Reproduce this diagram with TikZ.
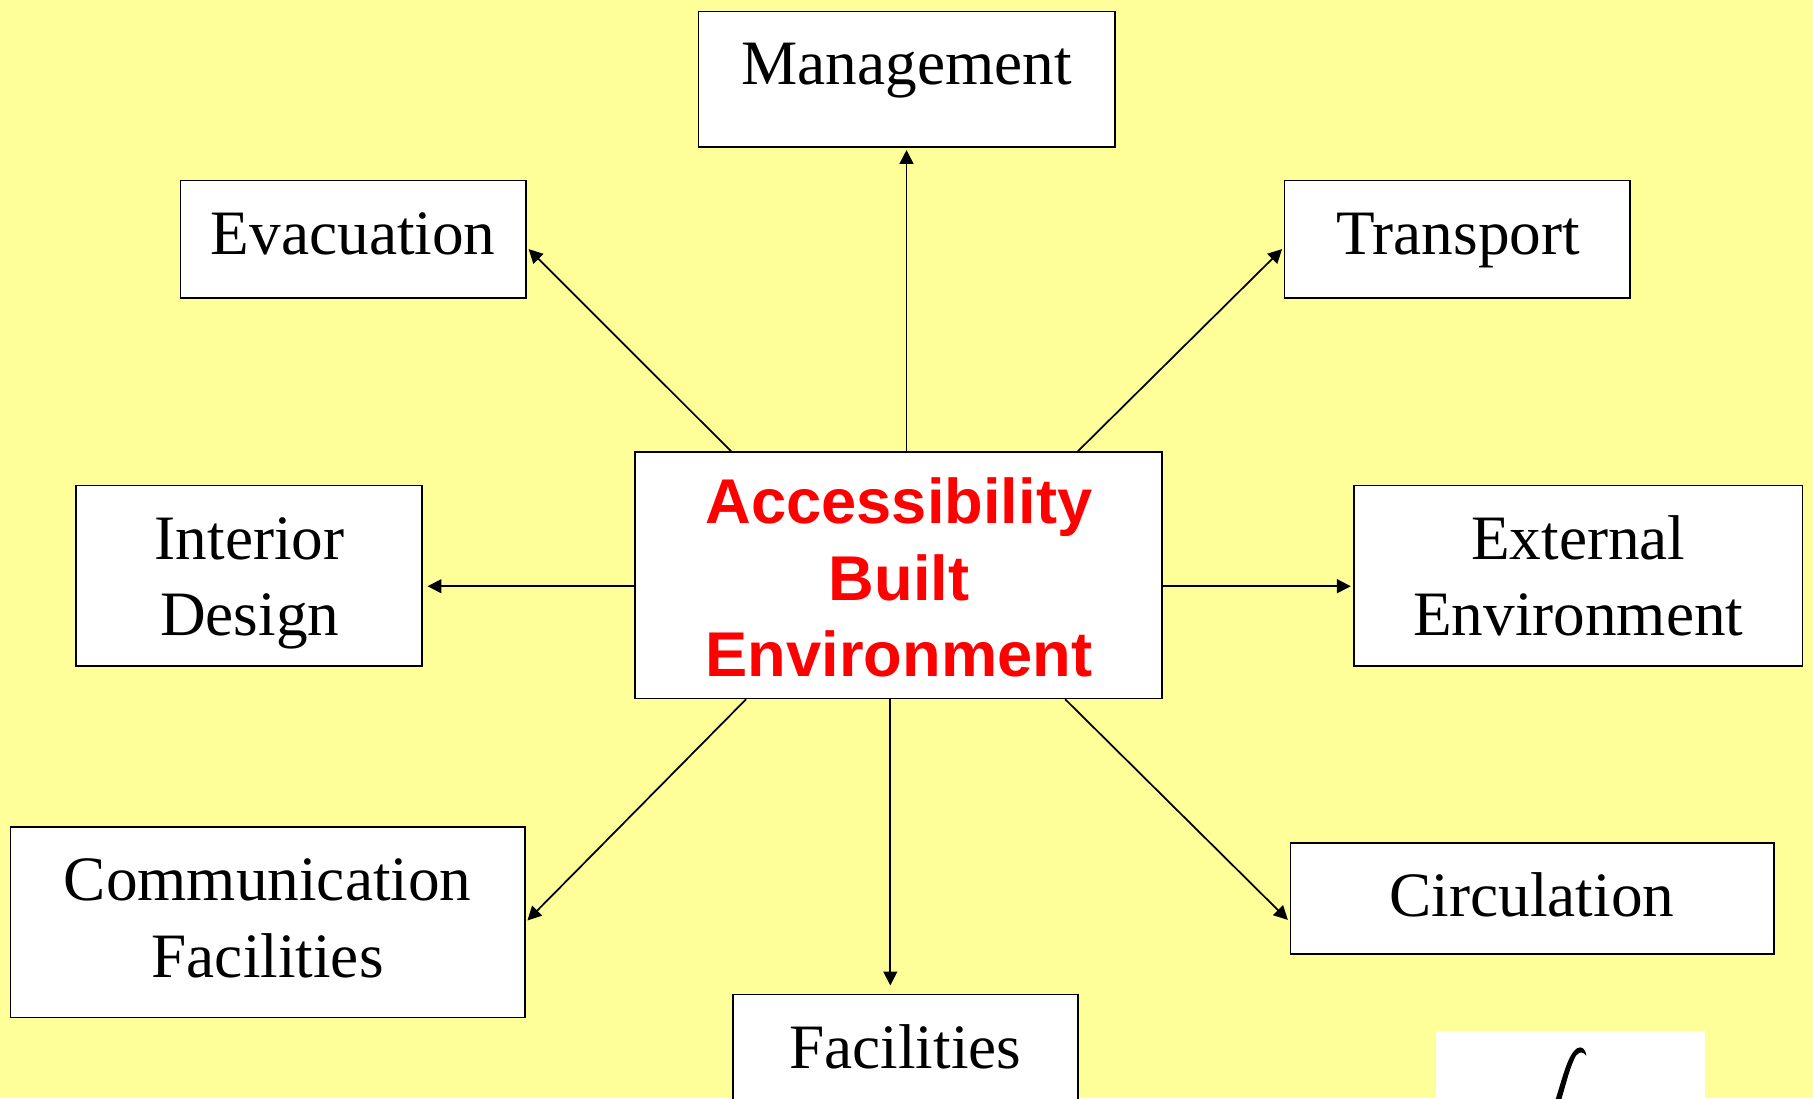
\documentclass[tikz,border=0pt]{standalone}
\usepackage{fontspec}
\setmainfont{Liberation Serif}
\newfontfamily\lsans{Liberation Sans}
\usetikzlibrary{calc,arrows.meta}
\definecolor{bgyellow}{HTML}{FFFF99}
\definecolor{redtext}{HTML}{FF0000}
\begin{document}
\begin{tikzpicture}[x=1pt,y=-1pt,
  boxnode/.style={draw=black, line width=1.5pt, fill=white, inner sep=0pt, rectangle},
  lbl/.style={anchor=base, inner sep=0pt, font=\fontsize{54.7}{66}\selectfont},
  redlbl/.style={anchor=base, inner sep=0pt, text=redtext, font=\lsans\bfseries\fontsize{54.7}{66}\selectfont},
  arr/.style={line width=1.5pt, shorten >=2pt, -{Triangle[length=12pt,width=12pt]}}]
\useasboundingbox (0,0) rectangle (1568,950);
\clip (0,0) rectangle (1568,950);
\fill[bgyellow] (0,0) rectangle (1568,950);

% boxes
\node[boxnode, minimum width=360pt, minimum height=117pt] (mgmt) at (784,68.5) {};
\node[boxnode, minimum width=299pt, minimum height=102pt] (evac) at (305.5,207) {};
\node[boxnode, minimum width=299pt, minimum height=102pt] (trans) at (1260.5,207) {};
\node[boxnode, minimum width=299pt, minimum height=156pt] (inter) at (215.5,498) {};
\node[boxnode, minimum width=388pt, minimum height=156pt] (ext) at (1365,498) {};
\node[boxnode, minimum width=456pt, minimum height=213pt] (center) at (777,497.5) {};
\node[boxnode, minimum width=445pt, minimum height=165pt] (comm) at (231.5,797.5) {};
\node[boxnode, minimum width=418pt, minimum height=96pt] (circ) at (1325,777) {};
\node[boxnode, minimum width=298pt, minimum height=120pt] (fac) at (783,920) {};
\node[fill=white, inner sep=0pt, minimum width=233pt, minimum height=80pt] (corner) at (1358.5,932) {};

% texts
\node[lbl] (tmgmt) at (784,73) {Management};
\node[lbl] (tevac) at (305.5,220) {Evacuation};
\node[lbl] (ttrans) at (1261,220) {Transport};
\node[lbl] (tinter1) at (216,484) {Interior};
\node[lbl] (tinter2) at (216,550) {Design};
\node[lbl] (text1) at (1365,484) {External};
\node[lbl] (text2) at (1365,550) {Environment};
\node[lbl] (tcomm1) at (231.5,779) {Communication};
\node[lbl] (tcomm2) at (231.5,845) {Facilities};
\node[lbl] (tcirc) at (1325,793) {Circulation};
\node[lbl] (tfac) at (783,924) {Facilities};
\node[redlbl] (tc1) at (777.5,453) {Accessibility};
\node[redlbl] (tc2) at (777.5,519) {Built};
\node[redlbl] (tc3) at (777.5,585) {Environment};

% corner stroke
\fill[black] (1345,952) .. controls (1352,930) and (1356,912) .. (1364,906.5)
  .. controls (1368,904.5) and (1371,907) .. (1372,913)
  .. controls (1369,909) and (1366,909.5) .. (1363,913)
  .. controls (1358,922) and (1355,935) .. (1350,952) -- cycle;

% connectors
\draw[arr] (mgmt.south |- center.north) -- (mgmt.south);
\draw[arr] ($(center.north west)+(84,0)$) -- ($(evac.east)+(0,7)$);
\draw[arr] ($(center.north west)+(384,0)$) -- ($(trans.west)+(0,7)$);
\draw[arr, shorten >=4pt] ($(center.west)+(0,9.5)$) -- ($(inter.east)+(0,9)$);
\draw[arr] ($(center.east)+(0,9.5)$) -- ($(ext.west)+(0,9)$);
\draw[arr] ($(center.south west)+(97,0)$) -- (comm.east);
\draw[arr, shorten >=7pt] ($(center.south)+(-7,0)$) -- ($(fac.north)+(-13,0)$);
\draw[arr] ($(center.south west)+(373,0)$) -- ($(circ.west)+(0,20)$);
\end{tikzpicture}
\end{document}
